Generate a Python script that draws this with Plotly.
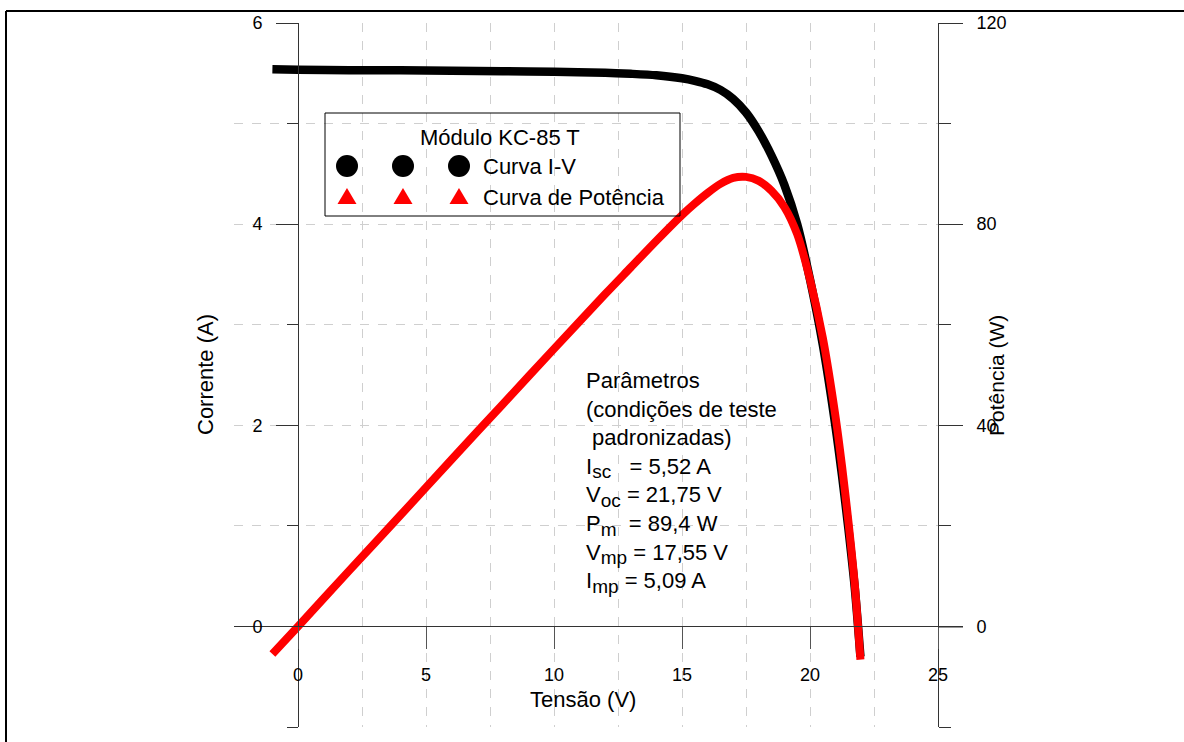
import plotly.graph_objects as go

# ---- data ----
voltage = [-1, 0, 2, 4, 6, 8, 10, 12, 13, 14, 15, 15.5, 16, 16.5, 17, 17.5,
           18, 18.5, 19, 19.5, 20, 20.5, 21, 21.25, 21.5, 21.75, 21.97]
current = [5.54, 5.535, 5.53, 5.53, 5.525, 5.52, 5.515, 5.505, 5.495, 5.48, 5.45,
           5.425, 5.39, 5.335, 5.245, 5.11, 4.92, 4.68, 4.39, 4.00, 3.45, 2.80,
           1.98, 1.50, 0.97, 0.38, -0.30]
power = [-5.5, 0, 11.1, 22.1, 33.2, 44.2, 55.2, 66.1, 71.4, 76.7, 81.8, 84.1,
         86.2, 88.0, 89.2, 89.4, 88.6, 86.6, 83.4, 78.0, 69.0, 57.4, 41.6, 31.9,
         20.9, 8.3, -6.6]

x_ticks = [0, 5, 10, 15, 20, 25]
x_tick_labels = ["0", "5", "10", "15", "20", "25"]

legend_title = "Módulo KC-85 T"
legend_names = ["Curva I-V", "Curva de Potência"]


def sub(t):
    return "<sub><span style='font-size:19px'>" + t + "</span></sub>"


param_lines = [
    "Parâmetros",
    "(condições de teste",
    "\u00a0padronizadas)",
    "I" + sub("sc") + "\u00a0\u00a0\u00a0= 5,52 A",
    "V" + sub("oc") + " = 21,75 V",
    "P" + sub("m") + "\u00a0\u00a0= 89,4 W",
    "V" + sub("mp") + " = 17,55 V",
    "I" + sub("mp") + " = 5,09 A",
]

# ---- layout geometry (pixels) ----
W, H = 1184, 742
PL, PR, PT, PB = 234, 938, 23, 727
S = PR - PL  # 704 (plot area width == height)


def px(xp):
    return (xp - PL) / S


def py(yp):
    return (PB - yp) / (PB - PT)


FONT = "Liberation Sans, Arial, Helvetica, sans-serif"
GRID = "#cfcfcf"
AX = "#333333"

fig = go.Figure()
fig.add_trace(go.Scatter(x=voltage, y=current, mode="lines", yaxis="y",
                         line=dict(color="black", width=8.5, shape="spline",
                                   smoothing=0.8),
                         name=legend_names[0], showlegend=False))
fig.add_trace(go.Scatter(x=voltage, y=power, mode="lines", yaxis="y2",
                         line=dict(color="#ff0000", width=8, shape="spline",
                                   smoothing=0.8),
                         name=legend_names[1], showlegend=False))

shapes = []
# frame (partially visible)
shapes.append(dict(type="line", xref="paper", yref="paper", x0=px(6), x1=px(W + 5),
                   y0=py(11), y1=py(11), line=dict(color="black", width=2)))
shapes.append(dict(type="line", xref="paper", yref="paper", x0=px(6), x1=px(6),
                   y0=py(11), y1=py(H + 5), line=dict(color="black", width=2)))
# x-axis line extension beyond right axis
shapes.append(dict(type="line", xref="paper", yref="paper", x0=1, x1=px(963),
                   y0=py(627), y1=py(627), line=dict(color=AX, width=1)))
# legend box
shapes.append(dict(type="rect", xref="paper", yref="paper", x0=px(325), x1=px(680),
                   y0=py(216), y1=py(113), line=dict(color="black", width=1)))
# legend symbols
for cx in (347, 403, 459):
    shapes.append(dict(type="circle", xref="paper", yref="paper",
                       x0=px(cx - 11), x1=px(cx + 11), y0=py(177), y1=py(155),
                       fillcolor="black", line=dict(color="black", width=0)))
    path = "M {:.5f},{:.5f} L {:.5f},{:.5f} L {:.5f},{:.5f} Z".format(
        px(cx), py(188), px(cx - 9.5), py(204), px(cx + 9.5), py(204))
    shapes.append(dict(type="path", xref="paper", yref="paper", path=path,
                       fillcolor="#ff0000", line=dict(color="#ff0000", width=0)))

annotations = [
    dict(text="Tensão (V)", x=px(583), y=py(699), xref="paper", yref="paper",
         showarrow=False, xanchor="center", yanchor="middle",
         font=dict(size=22, color="black", family=FONT)),
    dict(text="Corrente (A)", x=px(205), y=py(375), xref="paper", yref="paper",
         showarrow=False, xanchor="center", yanchor="middle", textangle=-90,
         font=dict(size=22, color="black", family=FONT)),
    dict(text="Potência (W)", x=px(996), y=py(375), xref="paper", yref="paper",
         showarrow=False, xanchor="center", yanchor="middle", textangle=-90,
         font=dict(size=21, color="black", family=FONT)),
    dict(text=legend_title, x=px(500), y=py(137), xref="paper", yref="paper",
         showarrow=False, xanchor="center", yanchor="middle",
         font=dict(size=22, color="black", family=FONT)),
    dict(text=legend_names[0], x=px(481), y=py(166), xref="paper", yref="paper",
         showarrow=False, xanchor="left", yanchor="middle",
         font=dict(size=22, color="black", family=FONT)),
    dict(text=legend_names[1], x=px(481), y=py(198), xref="paper", yref="paper",
         showarrow=False, xanchor="left", yanchor="middle",
         font=dict(size=22, color="black", family=FONT)),
    dict(text="<br>".join(param_lines), x=px(584), y=py(366), xref="paper",
         yref="paper", showarrow=False, xanchor="left", yanchor="top",
         align="left", font=dict(size=22, color="black", family=FONT)),
]

fig.update_layout(
    width=W, height=H,
    margin=dict(l=PL, r=W - PR, t=PT, b=H - PB, pad=0),
    paper_bgcolor="white", plot_bgcolor="white",
    showlegend=False,
    font=dict(family=FONT, size=18, color="black"),
    xaxis=dict(
        domain=[0, 1], range=[-2.5, 25], anchor="free", position=1 / 7,
        tickmode="array", tickvals=x_ticks, ticktext=x_tick_labels,
        ticks="outside", ticklen=22, tickwidth=1, tickcolor="#555555",
        ticklabelstandoff=10,
        showline=True, linecolor=AX, linewidth=1,
        showgrid=True, gridcolor=GRID, gridwidth=1, griddash="dash",
        minor=dict(dtick=2.5, tick0=0, showgrid=True, gridcolor=GRID,
                   griddash="dash", gridwidth=1, ticks=""),
        zeroline=False, automargin=False,
        tickfont=dict(size=18, family=FONT, color="black"),
    ),
    yaxis=dict(
        domain=[0, 1], range=[-1, 6], anchor="free", position=2.5 / 27.5,
        tick0=0, dtick=2, ticks="outside", ticklen=22, tickwidth=1,
        tickcolor=AX, ticklabelstandoff=10,
        showline=True, linecolor=AX, linewidth=1,
        showgrid=True, gridcolor=GRID, gridwidth=1, griddash="dash",
        minor=dict(dtick=1, tick0=0, ticks="outside", ticklen=11,
                   tickcolor=AX, showgrid=True, gridcolor=GRID,
                   griddash="dash", gridwidth=1),
        zeroline=False, automargin=False,
        tickfont=dict(size=18, family=FONT, color="black"),
    ),
    yaxis2=dict(
        overlaying="y", side="right", anchor="free", position=1,
        range=[-20, 120], tick0=0, dtick=40, ticks="outside", ticklen=24,
        tickwidth=1, tickcolor=AX, ticklabelstandoff=10,
        showline=True, linecolor=AX, linewidth=1, showgrid=False,
        minor=dict(dtick=20, tick0=0, ticks="outside", ticklen=12,
                   tickcolor=AX, showgrid=False),
        zeroline=False, automargin=False,
        tickfont=dict(size=18, family=FONT, color="black"),
    ),
    shapes=shapes,
    annotations=annotations,
)

fig.write_html("out.html")
